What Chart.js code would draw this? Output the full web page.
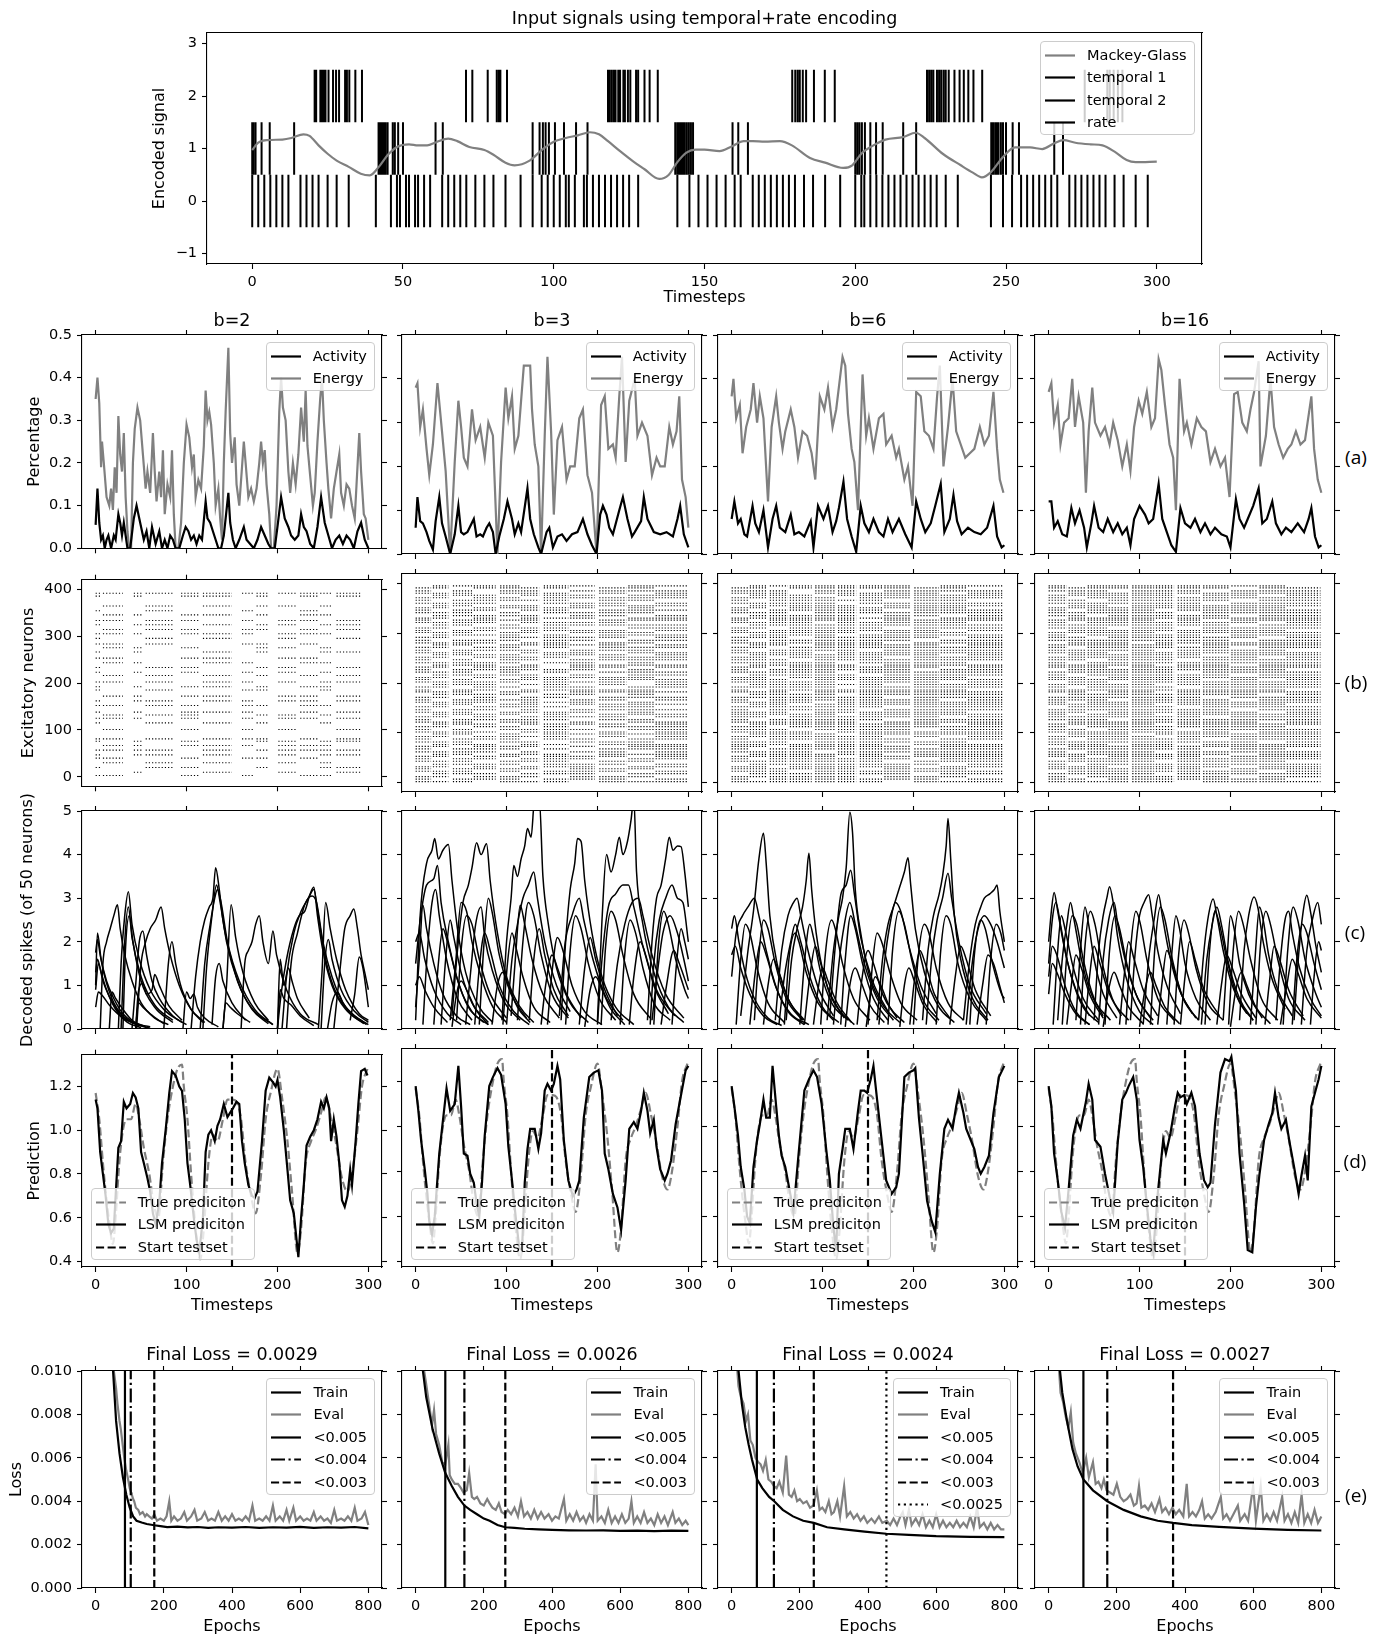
<!DOCTYPE html>
<html>
<head>
<meta charset="utf-8">
<script src="https://cdn.jsdelivr.net/npm/chart.js@4/dist/chart.umd.min.js"></script>
<style>
html,body{margin:0;padding:0;background:#fff}
body{position:relative;width:1385px;height:1639px;overflow:hidden;font-family:'DejaVu Sans',sans-serif;color:#000}
.leg{position:absolute;background:rgba(255,255,255,0.8);border:1px solid #ccc;border-radius:4px;box-sizing:border-box;font-size:14.5px}
.leg .row{position:absolute;left:0;right:0;height:22.5px;line-height:22.5px;white-space:nowrap}
.tag{position:absolute;font-family:'Open Sans',sans-serif;font-size:19px;transform:translate(-50%,-50%)}
</style>
</head>
<body>
<script>
// ---------- tick labels / titles ----------
const topXTicks = [0, 50, 100, 150, 200, 250, 300];
const topYTicks = [-1, 0, 1, 2, 3];
const stepTicks = [0, 100, 200, 300];
const actTicks = [0, 0.1, 0.2, 0.3, 0.4, 0.5];
const neuronTicks = [0, 100, 200, 300, 400];
const decTicks = [0, 1, 2, 3, 4, 5];
const predTicks = [0.4, 0.6, 0.8, 1.0, 1.2];
const epochTicks = [0, 200, 400, 600, 800];
const lossTicks = [0, 0.002, 0.004, 0.006, 0.008, 0.010];
const bTitles = ['b=2', 'b=3', 'b=6', 'b=16'];
const lossTitles = ['Final Loss = 0.0029', 'Final Loss = 0.0026', 'Final Loss = 0.0024', 'Final Loss = 0.0027'];

// ---------- top panel: input signals ----------
const mackeyGlass = [[0,.97],[2,1.11],[5,1.16],[10,1.17],[13,1.2],[17,1.27],[19,1.24],[22,1.06],[25,.9],[28,.77],[32,.65],[36,.52],[39,.49],[42,.65],[45,.88],[48,1.03],[52,1.08],[55,1.06],[58,1.06],[61,1.12],[65,1.19],[68,1.14],[72,1.03],[77,.97],[80,.88],[84,.73],[87,.68],[92,.77],[96,.97],[100,1.13],[104,1.2],[108,1.25],[112,1.31],[115,1.27],[118,1.14],[122,.95],[126,.77],[130,.61],[135,.42],[138,.49],[141,.74],[144,.92],[147,.98],[150,.98],[155,.95],[159,1.04],[163,1.14],[166,1.14],[170,1.13],[175,1.14],[179,1.06],[185,.82],[190,.73],[196,.63],[199,.68],[202,.9],[206,1.06],[210,1.17],[216,1.22],[220,1.3],[223,1.2],[229,.9],[235,.68],[239,.54],[242,.45],[245,.55],[249,.84],[253,1.02],[258,1.02],[262,.99],[266,1.1],[269,1.16],[273,1.11],[278,1.08],[282,1.06],[286,.94],[290,.78],[293,.74],[300,.75]];
const temporal1 = [20.7,21.2,22.6,23.2,23.8,24.3,25.3,26.8,27.8,28.8,30.8,31.4,32.2,34.2,36.4,70.9,73,78.1,81.1,81.8,82.3,84.5,118,118.5,119.2,119.9,120.5,121.4,122,123.1,123.6,124.6,125.4,127.3,128,130.1,131.8,134.5,179.1,180.1,180.9,181.6,182.6,183.7,186.3,189.9,193.2,223.8,224.5,225.2,225.9,227.1,227.8,228.5,229.3,230,231,232.9,234.6,236,237.5,239.2,242.1,276.1,283.6,284.4,285.7,287.1,288.6];
const temporal2 = [0,0.4,1.1,3.1,5.8,13.9,41.9,42.3,42.8,43.2,43.6,44.2,44.9,46.6,47.3,48.4,50,60.8,63.2,93,95.3,96.4,97.3,98.4,100.4,103.4,107.4,111.2,140.3,141,141.6,142.2,142.8,143.4,144.1,144.8,145.5,146.2,159.3,161.2,164.4,200,200.7,201.4,202.2,203.2,205,206.9,209.1,215.9,220.2,245.1,245.7,246.4,247,247.5,248.3,249,250,252.2,254.3,266,268.9];
const rateSpikes = [0,2,4,6,8,10,12,16,18,20,22,25,28,32,41,46,48,49,51,52,54,55,57,59,63,65,67,69,71,74,77,80,84,89,93,96,98,100,102,104,105,107,110,111,113,115,117,119,121,123,125,128,141,145,148,151,154,157,160,162,166,168,170,172,174,176,178,180,183,186,190,195,200,202,203,205,207,209,211,213,215,217,219,221,223,225,227,230,234,245,249,252,255,257,259,261,263,265,267,271,273,275,277,279,281,283,286,289,293,297];

// ---------- row (a): activity / energy ----------
const activityB2 = [[0,.055],[2,.14],[4,.06],[6,.02],[8,.03],[10,0],[12,.02],[14,.03],[17,0],[20,.03],[22,.02],[25,.08],[27,.06],[29,.03],[31,.06],[33,.03],[35,0],[38,0],[42,.07],[45,.1],[48,.07],[50,.05],[53,.02],[56,.04],[59,0],[62,.05],[64,.03],[66,.01],[70,.04],[73,0],[76,.02],[79,0],[82,.03],[85,.02],[88,0],[92,0],[96,.03],[99,.05],[102,.04],[105,.02],[108,.03],[111,.01],[114,.03],[117,.02],[121,.11],[123,.07],[126,.06],[129,.04],[132,.02],[135,0],[138,0],[141,.03],[146,.13],[148,.06],[151,.02],[154,0],[158,.02],[163,.05],[166,.02],[170,.01],[174,0],[178,.02],[182,.05],[186,.03],[190,.01],[193,0],[197,0],[200,.05],[204,.12],[208,.07],[212,.05],[215,.03],[219,.02],[223,.03],[226,.08],[229,.05],[232,.04],[236,.01],[240,0],[244,.05],[248,.12],[252,.06],[256,.03],[260,0],[264,.02],[268,.03],[272,.01],[276,.03],[280,.02],[284,0],[288,.04],[292,.06],[296,.02],[300,0]];
const energyB2 = [[0,.35],[2,.40],[4,.34],[6,.19],[7,.25],[9,.20],[12,.12],[15,.10],[17,.14],[19,.09],[21,.19],[23,.13],[25,.31],[27,.22],[29,.18],[31,.27],[33,.12],[35,.04],[37,0],[39,0],[41,.20],[43,.28],[46,.33],[49,.30],[52,.22],[55,.14],[57,.18],[60,.13],[63,.27],[65,.18],[67,.11],[70,.18],[72,.12],[74,.23],[76,.08],[79,.15],[82,.12],[84,.23],[86,.08],[88,0],[91,0],[94,.06],[97,.20],[100,.29],[103,.26],[106,.19],[108,.22],[110,.12],[113,.16],[116,.14],[119,.24],[121,.37],[123,.30],[125,.32],[127,.29],[130,.20],[132,.10],[135,.14],[137,.07],[139,.02],[141,.20],[143,.32],[146,.47],[148,.27],[150,.20],[153,.26],[155,.15],[158,.10],[160,.16],[163,.25],[165,.20],[168,.12],[171,.14],[174,.11],[177,.14],[180,.20],[182,.25],[184,.20],[186,.23],[188,.15],[191,.08],[193,0],[196,0],[199,.10],[202,.32],[204,.40],[206,.33],[209,.30],[212,.18],[214,.13],[217,.20],[220,.15],[223,.22],[226,.33],[229,.25],[231,.37],[233,.24],[236,.17],[239,.10],[241,.13],[244,.25],[247,.35],[249,.40],[251,.30],[254,.20],[256,.14],[259,.07],[262,.14],[265,.18],[268,.22],[270,.13],[273,.10],[276,.15],[279,.14],[282,.10],[285,.07],[287,.15],[290,.27],[292,.18],[295,.08],[297,.07],[300,.02]];
const activityB3 = [[0,.06],[2,.13],[5,.075],[8,.07],[12,.05],[15,.03],[19,.01],[22,.075],[26,.13],[29,.07],[33,.04],[38,0],[43,.045],[47,.11],[50,.05],[53,.045],[57,.05],[64,.08],[67,.04],[71,.045],[74,.04],[78,.06],[81,.07],[85,.05],[88,0],[92,.04],[97,.08],[101,.12],[106,.08],[109,.045],[113,.07],[116,.05],[123,.15],[126,.08],[130,.045],[135,.015],[138,0],[144,.05],[147,.06],[151,.015],[156,.04],[161,.045],[166,.03],[172,.045],[178,.05],[184,.08],[189,.045],[194,.02],[199,0],[203,.09],[206,.11],[210,.09],[213,.06],[217,.045],[224,.10],[228,.13],[233,.08],[238,.04],[241,.05],[248,.075],[251,.13],[255,.08],[262,.05],[269,.045],[276,.05],[283,.04],[288,.08],[291,.11],[295,.045],[300,.015]];
const energyB3 = [[0,.38],[2,.39],[5,.29],[8,.33],[12,.24],[15,.18],[19,.25],[24,.39],[29,.28],[33,.19],[38,0],[43,.21],[47,.35],[50,.29],[53,.22],[57,.20],[62,.33],[66,.26],[71,.29],[76,.22],[80,.30],[85,.27],[90,0],[94,.21],[99,.38],[102,.31],[106,.36],[109,.24],[113,.27],[119,.43],[123,.43],[126,.43],[128,.33],[131,.25],[135,.20],[138,0],[142,.27],[145,.45],[149,.28],[152,.09],[156,.26],[161,.29],[166,.17],[170,.20],[175,.20],[180,.31],[184,.33],[189,.18],[194,.14],[199,0],[204,.34],[208,.36],[212,.24],[217,.25],[220,.22],[224,.36],[227,.45],[231,.21],[235,.35],[241,.40],[244,.27],[249,.30],[255,.27],[260,.18],[265,.22],[269,.20],[274,.20],[279,.29],[283,.25],[287,.28],[290,.36],[293,.17],[297,.13],[300,.06]];
const activityB6 = [[0,.08],[3,.12],[7,.07],[10,.08],[14,.045],[17,.04],[23,.11],[26,.07],[30,.05],[35,.10],[40,.015],[45,.08],[49,.11],[53,.06],[59,.05],[65,.09],[69,.045],[74,.05],[80,.04],[87,.075],[90,.015],[95,.11],[101,.08],[106,.11],[111,.05],[115,.075],[118,.105],[123,.165],[127,.08],[132,.04],[137,.005],[142,.11],[146,.07],[151,.05],[156,.08],[162,.05],[167,.04],[172,.08],[177,.05],[184,.08],[191,.045],[198,.015],[203,.12],[208,.08],[213,.05],[219,.07],[224,.11],[230,.16],[234,.05],[240,.08],[244,.135],[248,.075],[253,.045],[260,.06],[267,.05],[274,.045],[281,.06],[288,.11],[292,.04],[297,.015],[300,.02]];
const energyB6 = [[0,.36],[2,.40],[5,.31],[9,.34],[12,.23],[16,.29],[21,.33],[24,.39],[28,.30],[31,.36],[35,.31],[40,.12],[44,.29],[49,.36],[52,.30],[56,.24],[59,.28],[65,.33],[69,.29],[73,.22],[78,.28],[83,.27],[88,.23],[92,.17],[97,.36],[102,.33],[106,.38],[111,.29],[115,.33],[122,.45],[125,.43],[128,.32],[132,.24],[135,.21],[139,.10],[144,.41],[148,.27],[151,.31],[156,.24],[162,.31],[167,.32],[170,.25],[176,.27],[181,.22],[184,.24],[190,.17],[194,.20],[199,.11],[203,.37],[208,.36],[212,.28],[217,.27],[222,.24],[226,.36],[229,.43],[233,.20],[238,.29],[243,.40],[247,.28],[252,.25],[257,.22],[262,.23],[267,.24],[273,.29],[278,.25],[283,.27],[288,.37],[292,.24],[295,.17],[299,.14]];
const activityB16 = [[0,.12],[3,.12],[6,.06],[10,.075],[15,.045],[20,.04],[25,.105],[29,.07],[34,.10],[39,.06],[42,.015],[47,.07],[50,.11],[55,.06],[60,.05],[65,.08],[71,.05],[76,.07],[81,.045],[86,.06],[90,.02],[94,.08],[100,.11],[106,.09],[110,.07],[115,.08],[121,.16],[125,.08],[130,.05],[135,.02],[140,.005],[145,.105],[150,.07],[156,.06],[161,.08],[167,.05],[172,.07],[178,.045],[183,.06],[190,.045],[196,.04],[200,.015],[206,.125],[210,.08],[215,.06],[219,.08],[225,.11],[231,.15],[235,.07],[240,.08],[246,.12],[250,.07],[256,.045],[261,.06],[267,.05],[274,.07],[281,.05],[286,.08],[289,.105],[293,.04],[297,.015],[300,.02]];
const energyB16 = [[0,.37],[3,.39],[6,.30],[10,.34],[13,.25],[17,.30],[22,.31],[26,.40],[29,.29],[33,.36],[38,.30],[41,.14],[44,.28],[48,.38],[51,.30],[57,.27],[62,.29],[67,.25],[71,.30],[76,.26],[81,.20],[86,.25],[90,.19],[94,.29],[99,.35],[103,.32],[108,.37],[113,.29],[117,.31],[121,.445],[124,.42],[128,.34],[133,.25],[137,.22],[140,.10],[144,.40],[149,.28],[152,.30],[157,.25],[163,.31],[168,.29],[173,.28],[178,.21],[183,.24],[189,.20],[194,.22],[199,.13],[204,.365],[208,.37],[213,.30],[218,.28],[222,.33],[226,.37],[231,.44],[233,.20],[239,.27],[244,.40],[248,.29],[253,.25],[258,.22],[263,.24],[267,.25],[272,.28],[277,.25],[282,.26],[289,.36],[292,.24],[296,.17],[300,.14]];

// ---------- row (b): spike rasters (neuron rows x active time windows) ----------
const winB2 = [[0,6],[8,30],[42,52],[55,85],[94,114],[118,150],[161,175],[177,191],[201,222],[225,245],[247,260],[265,293]];
const rowsB2 = [391,385,364,354,345,333,324,314,305,295,283,275,266,253,243,233,223,216,202,192,185,172,162,152,138,132,125,115,101,81,76,67,57,47,40,30,20,10,3];
const maskB2 = `111111111111 101011010101 010101011010 100100100100 011011010110 110110101101 101101011011 010110110101 111011101110 100101001001 110100110100 011010011010 101001010011 110011001100 011001100110 100110011001 101010101010 010101010101 110101101011 101011010110 100100110010 011011001101 101101101101 110110110110 101011100101 010110011010 111010101101 100101010010 010010101001 110101110101 101010011011 011011101110 111101011111 101101001011 110010110100 010101001010 100110010011 001001001001 110010100110`;
const rowsDense = [1,6,11,17,22,27,31,36,42,47,52,56,61,67,72,76,81,87,92,97,101,106,112,117,121,126,132,137,141,146,152,157,161,166,171,177,182,186,192,197,202,207,211,216,222,227,232,236,241,247,252,257,261,266,272,277,281,286,292,297,302,306,311,317,322,327,331,336,342,347,352,356,361,367,372,377,381,386,392,396];
const winB3 = [[0,17],[19,36],[41,62],[64,88],[93,114],[116,136],[141,168],[170,197],[202,232],[234,262],[264,299]];
const maskB3 = `11101110111 10111011101 11011101110 01110111011 11101011101 10111101110 11010111011 01111011101 11101110110 10110111011 11011011101 01101110111 11110101101 10111010111 11011101011 01110110111 11101101110 10111011011 11011110101 01101011111 11110110101 10101111011 11011010111 01110111101 11101101011 10111110110 11010111101 01111010111 11101111010 10110101111 11011110110 01101101111 11110111010 10111101101 11010110111 01111011010 11101101111 10110111110 11011011011 01110110101 11111011101 10101110111 11010111110 01111101011 11101010111 10111111010 11011101101 01110101111 11111011010 10101101111 11011110111 01111011101 11100111011 10111101110 11011010111 01101111101 11110110110 10111011011 11001111101 01111010111 11101101110 10110111101 11011110011 01101011111 11110111100 10111100111 11010111011 01111101101 11101011110 10110110111 11011111010 01101101111 11110011101 10111110110 11011011111 01110111011 11101110101 10101101111 11011110110 01111011011`;
const winB6 = [[0,18],[20,38],[42,62],[64,88],[92,115],[117,137],[141,166],[168,197],[201,228],[230,258],[260,299]];
const maskB6 = `11111110111 10111111101 11111101110 01111111011 11101111111 11111101110 11011111011 01111111101 11111110111 10111111011 11111011111 01111110111 11110111111 10111111111 11011111011 11111110111 11101111110 10111111011 11111110101 01111011111 11110111111 11101111011 11011111111 01111111101 11111101111 10111110111 11011111101 11111011111 11101111110 10111101111 11111110111 01101111111 11110111111 10111111101 11111110111 01111011111 11101111111 10111111110 11111011111 01111110111 11111011101 11101111111 11011111110 01111101111 11111011111 10111111011 11011111101 01111101111 11111011110 11101111111 11011110111 01111111101 11110111111 10111101111 11011111111 01101111101 11111110111 10111111011 11101111101 01111011111 11111101110 10111111101 11011110111 01111111111 11110111110 10111101111 11111111011 01111101101 11101111111 10111110111 11011111110 01111101111 11111011111 10111110110 11111011111 01110111111 11101111101 11101101111 11011111110 01111111011`;
const winB16 = [[0,20],[22,40],[43,64],[66,89],[92,116],[118,138],[142,168],[170,198],[201,230],[232,260],[262,299]];
const maskB16 = `11111101111 11011111110 10111111011 11111011111 01111111101 11111110111 11101111011 10111111111 11111011110 01111111111 11011110111 11111111011 10111011111 11111110110 01111111111 11101101111 11111111101 10111110111 11111011111 01110111111 11111111011 11011101111 10111111110 11111011111 01111111101 11101111111 11111110111 10111011111 11011111101 11111111011 01111101111 11111011110 10111111111 11101111011 11111110111 01111111101 11011011111 11111111110 10111101111 11111011111 01101111111 11111110101 11011111111 10111111011 11111101111 01111111110 11101111111 11111011011 10111111111 11011101111 11111111101 01111110111 11101111111 11111011110 10111111011 11111101111 01110111111 11111111011 11011111101 10111110111 11111011111 01111111110 11101101111 11111111011 10111111101 11111010111 01111111111 11011111011 11111101111 10111011111 11111111110 01101111111 11111110111 11011111011 10111111111 11111101101 01111111111 11101110111 11111111011 10111111110`;

// ---------- row (c): decoded spike traces (subset of the 50 neurons) ----------
const tracesB2 = [
 [[0,1.75],[2,2.05],[5,1.7],[10,1.2],[20,.6],[30,.3],[45,.1],[60,.02]],
 [[0,1.0],[2,2.2],[6,1.6],[12,1.1],[20,.7],[30,.35],[45,.1]],
 [[0,.9],[3,1.5],[8,1.1],[15,.75],[25,.4],[40,.15],[60,.05]],
 [[0,.5],[3,.85],[8,.75],[15,.55],[30,.25],[50,.08]],
 [[0,1.3],[2,1.6],[6,1.3],[12,.9],[22,.45],[35,.15],[50,.03]],
 [[5,0],[8,1.5],[12,2.0],[16,2.3],[20,2.6],[24,2.85],[27,2.3],[32,1.7],[40,1.1],[50,.6],[65,.25],[80,.1]],
 [[25,0],[28,1.5],[32,2.6],[36,3.15],[40,2.4],[48,1.6],[60,.9],[75,.45],[95,.15]],
 [[28,0],[32,2.0],[36,2.8],[40,2.1],[50,1.2],[65,.55],[85,.2]],
 [[30,0],[33,1.9],[37,2.6],[41,2.0],[50,1.1],[65,.5],[85,.15]],
 [[15,0],[18,.85],[22,.7],[30,.45],[40,.2],[55,.05]],
 [[40,0],[44,1.0],[48,2.0],[52,2.25],[56,1.7],[62,1.1],[70,.7],[85,.3],[100,.1]],
 [[44,0],[47,.85],[52,1.05],[56,.8],[62,.9],[65,1.25],[70,1.0],[80,.55],[95,.2]],
 [[44,0],[47,.6],[52,.5],[60,.35],[75,.12]],
 [[45,0],[50,1.5],[55,2.0],[60,2.3],[66,2.5],[72,2.8],[76,2.3],[82,1.7],[92,1.0],[105,.45],[120,.15]],
 [[75,0],[80,1.5],[84,2.0],[88,1.5],[95,.9],[105,.45],[118,.15]],
 [[96,0],[100,.85],[104,.7],[108,.8],[112,.5],[120,.25],[135,.05]],
 [[105,0],[110,1.2],[115,2.0],[120,2.5],[125,2.8],[129,3.0],[132,3.7],[136,3.2],[140,2.5],[148,1.7],[160,.9],[175,.4],[195,.1]],
 [[115,0],[120,1.5],[126,2.4],[131,3.0],[134,3.2],[138,2.9],[145,2.0],[158,1.1],[175,.45],[195,.1]],
 [[118,0],[122,1.4],[128,2.6],[133,3.3],[137,2.9],[144,2.0],[156,1.1],[172,.45],[190,.12]],
 [[128,.1],[132,1.2],[136,1.5],[140,1.1],[150,.6],[165,.2]],
 [[140,0],[144,1.0],[149,2.85],[154,2.1],[162,1.3],[175,.6],[190,.2]],
 [[140,0],[143,.6],[148,.5],[156,.35],[170,.15]],
 [[160,0],[164,1.5],[168,1.8],[172,2.0],[176,2.4],[180,2.6],[184,2.0],[190,1.5],[195,2.25],[199,1.7],[210,.9],[225,.35],[245,.1]],
 [[200,0],[203,1.6],[207,1.0],[212,1.4],[216,1.1],[222,.7],[235,.25]],
 [[200,0],[203,.9],[207,.7],[215,.55],[225,.3],[240,.08]],
 [[200,0],[204,.8],[210,1.6],[218,2.3],[224,2.6],[230,2.7],[236,3.1],[240,3.25],[244,2.6],[250,1.8],[260,1.0],[275,.45],[295,.12]],
 [[205,0],[210,1.2],[218,2.2],[226,2.7],[234,3.0],[240,3.2],[245,2.6],[252,1.7],[262,.95],[278,.4],[298,.1]],
 [[210,0],[215,1.5],[222,2.2],[230,2.85],[238,3.05],[243,2.9],[250,2.0],[260,1.2],[275,.5],[295,.15]],
 [[245,0],[249,1.3],[253,2.9],[258,2.3],[265,1.6],[275,.9],[290,.35],[300,.2]],
 [[248,0],[252,1.5],[256,2.05],[260,1.6],[270,.9],[285,.4],[300,.15]],
 [[262,0],[268,1.2],[274,2.3],[280,2.6],[284,2.75],[288,2.3],[292,1.7],[296,1.3],[300,.9]],
 [[280,.2],[285,.8],[290,1.65],[294,1.4],[300,.5]],
 [[255,0],[260,.6],[266,.85],[272,.6],[285,.3],[300,.1]]
];
const tracesB3 = [
 [[0,.2],[5,2.6],[12,3.8],[18,4.1],[21,4.37],[25,3.9],[30,4.1],[36,4.23],[40,3.4],[46,2.3],[55,1.3],[70,.5],[85,.15]],
 [[0,1.5],[5,2.5],[12,3.3],[20,3.45],[24,3.75],[28,2.9],[36,2.0],[48,1.0],[62,.4],[80,.1]],
 [[0,.5],[4,1.6],[8,2.84],[12,2.3],[20,1.5],[30,.8],[45,.3],[60,.1]],
 [[40,.3],[46,1.8],[52,2.9],[58,3.3],[62,3.7],[67,4.27],[72,4.0],[78,4.25],[82,3.4],[90,2.2],[100,1.2],[115,.5],[130,.15]],
 [[38,.2],[44,1.5],[50,2.9],[56,2.7],[62,2.0],[72,1.2],[85,.5],[100,.15]],
 [[55,.1],[60,1.2],[66,2.4],[72,2.8],[76,2.1],[85,1.3],[98,.6],[115,.2]],
 [[95,.2],[100,2.0],[105,3.0],[108,3.75],[112,3.5],[116,3.9],[120,4.2],[123,4.6],[127,4.4],[131,5.3],[136,5.3],[140,3.5],[146,2.4],[155,1.4],[170,.6],[190,.15]],
 [[100,.1],[106,1.6],[112,2.4],[118,3.0],[124,3.3],[130,3.6],[134,3.0],[142,2.0],[155,1.0],[170,.4]],
 [[105,.3],[110,1.7],[115,2.84],[120,2.4],[128,1.6],[140,.8],[158,.25]],
 [[160,.2],[165,2.0],[170,3.2],[175,3.8],[178,4.37],[182,4.3],[186,3.4],[194,2.2],[205,1.2],[220,.5],[240,.1]],
 [[158,.3],[164,1.9],[172,2.6],[180,3.0],[185,2.5],[195,1.6],[210,.7],[228,.2]],
 [[200,.2],[205,2.5],[210,4.0],[215,3.6],[220,4.0],[224,4.4],[228,4.0],[233,4.3],[237,4.8],[240,5.3],[243,3.6],[250,2.4],[262,1.3],[278,.5],[295,.15]],
 [[200,.1],[205,1.6],[212,2.8],[220,3.1],[228,3.3],[234,3.3],[240,2.8],[250,1.9],[265,.9],[285,.3]],
 [[215,.2],[222,1.5],[230,2.4],[238,2.9],[245,3.0],[250,2.6],[260,1.7],[275,.8],[295,.25]],
 [[255,.2],[260,2.0],[265,3.0],[270,3.3],[275,3.9],[279,4.4],[283,4.1],[288,4.2],[292,4.18],[296,3.6],[300,2.8]],
 [[258,.1],[262,1.5],[268,2.5],[275,3.0],[282,3.3],[288,3.0],[294,2.9],[300,2.0]],
 [[260,.2],[266,1.3],[272,2.2],[280,2.6],[288,2.2],[295,1.6],[300,1.1]],
 [[0,2.0],[4,2.2],[10,1.6],[20,.9],[35,.35],[50,.1]],
 [[20,.1],[25,1.5],[30,2.3],[35,2.0],[45,1.2],[58,.5],[75,.15]],
 [[65,.1],[70,1.4],[76,2.2],[82,1.8],[92,1.0],[108,.4],[125,.1]],
 [[125,.2],[130,1.6],[136,2.3],[142,1.7],[152,.9],[168,.3]],
 [[138,.1],[143,1.0],[150,1.7],[156,1.4],[166,.8],[182,.25]],
 [[180,.1],[186,1.4],[192,2.1],[198,1.6],[208,.9],[222,.3]],
 [[235,.1],[240,1.2],[247,2.0],[253,1.7],[262,1.0],[278,.35]],
 [[270,.1],[276,1.0],[284,1.8],[290,1.5],[300,.9]],
 [[40,.05],[45,.8],[50,1.1],[56,.9],[66,.45],[80,.1]],
 [[84,.1],[90,1.0],[96,1.3],[102,1.0],[112,.5],[126,.15]],
 [[186,.05],[192,.9],[198,1.2],[205,.9],[215,.45],[230,.1]],
 [[8,.1],[13,1.8],[18,2.9],[22,3.2],[26,2.6],[34,1.6],[46,.7],[62,.2]],
 [[28,.1],[33,1.6],[38,2.5],[42,2.1],[50,1.3],[62,.6],[80,.15]],
 [[45,.2],[50,1.8],[56,2.6],[62,2.4],[70,1.6],[82,.8],[100,.25]],
 [[70,.1],[75,1.9],[80,3.0],[84,2.7],[92,1.7],[105,.8],[122,.25]],
 [[96,.1],[101,1.5],[106,2.2],[110,1.9],[118,1.2],[130,.5],[148,.15]],
 [[112,.2],[118,2.0],[124,2.9],[130,2.6],[138,1.7],[150,.8],[168,.25]],
 [[145,.1],[150,1.3],[156,2.1],[162,1.8],[172,1.0],[186,.4],[205,.1]],
 [[165,.1],[170,1.8],[176,2.6],[182,2.3],[190,1.5],[202,.7],[220,.2]],
 [[204,.1],[209,1.9],[215,2.7],[220,2.5],[228,1.7],[240,.8],[258,.25]],
 [[225,.1],[230,1.7],[236,2.5],[242,2.2],[250,1.4],[262,.6],[280,.2]],
 [[262,.1],[267,1.9],[273,2.7],[278,2.4],[286,1.6],[296,.9],[300,.7]],
 [[282,.1],[287,1.5],[292,2.3],[296,2.0],[300,1.6]],
 [[0,1.0],[4,1.2],[10,.9],[20,.5],[35,.15]]
];
const tracesB6 = [
 [[10,.3],[18,1.8],[24,2.7],[30,3.9],[35,4.49],[38,3.8],[42,2.6],[50,1.5],[62,.7],[80,.2]],
 [[0,1.2],[5,2.2],[12,2.6],[18,2.8],[25,3.0],[30,2.6],[38,1.8],[50,.9],[65,.35],[85,.1]],
 [[0,2.3],[3,2.6],[8,2.0],[15,1.3],[25,.7],[40,.25],[55,.08]],
 [[60,.2],[66,1.6],[72,2.3],[78,2.8],[82,3.4],[85,4.03],[88,3.2],[93,2.2],[102,1.2],[118,.45],[135,.1]],
 [[48,.2],[55,1.8],[62,2.6],[68,2.9],[72,3.0],[76,2.6],[84,1.8],[96,.9],[112,.3]],
 [[52,.1],[58,1.2],[65,2.0],[70,2.4],[76,2.0],[86,1.2],[100,.5],[118,.15]],
 [[105,.2],[112,1.8],[118,2.6],[122,3.0],[126,3.7],[130,4.97],[133,4.5],[136,3.2],[142,2.2],[152,1.2],[168,.5],[185,.15]],
 [[108,.3],[114,1.9],[120,3.07],[126,3.3],[131,3.64],[135,3.1],[142,2.1],[155,1.1],[172,.4]],
 [[112,.1],[118,1.5],[124,2.4],[130,2.9],[136,2.4],[146,1.5],[160,.7],[178,.2]],
 [[160,.2],[166,1.6],[172,2.4],[178,2.8],[184,3.2],[190,3.6],[194,3.93],[197,3.3],[202,2.3],[212,1.3],[228,.5],[245,.15]],
 [[162,.1],[168,1.5],[175,2.5],[180,2.9],[186,2.7],[195,1.9],[208,1.0],[225,.35]],
 [[210,.2],[216,1.8],[222,2.6],[228,3.07],[232,3.5],[236,4.2],[238,4.83],[241,3.9],[245,2.6],[252,1.6],[265,.7],[282,.2]],
 [[214,.1],[220,1.6],[226,2.5],[232,3.0],[238,3.57],[242,3.0],[250,2.0],[262,1.0],[280,.35]],
 [[255,.2],[262,1.6],[268,2.4],[274,2.8],[278,3.0],[284,3.1],[289,3.2],[292,3.3],[295,2.7],[300,2.0]],
 [[258,.1],[264,1.4],[270,2.2],[278,2.6],[285,2.4],[292,2.0],[300,1.4]],
 [[0,1.7],[4,1.9],[10,1.4],[20,.8],[35,.3],[50,.1]],
 [[20,.1],[26,1.3],[32,2.0],[38,1.7],[48,1.0],[62,.4],[80,.1]],
 [[35,.1],[40,1.0],[46,1.6],[52,1.3],[62,.7],[78,.2]],
 [[80,.1],[86,1.2],[92,1.9],[98,1.5],[108,.8],[124,.25]],
 [[90,.1],[95,.9],[100,1.4],[106,1.1],[116,.6],[132,.15]],
 [[138,.1],[143,1.1],[150,1.8],[156,1.5],[166,.8],[182,.25]],
 [[148,.05],[153,.8],[158,1.2],[164,1.0],[174,.5],[190,.15]],
 [[196,.1],[201,1.1],[207,1.8],[213,1.5],[223,.8],[240,.25]],
 [[240,.1],[246,1.2],[252,1.9],[258,1.6],[268,.9],[285,.3]],
 [[270,.1],[276,1.0],[282,1.7],[288,1.5],[296,.9],[300,.6]],
 [[125,.05],[130,1.0],[136,1.4],[142,1.1],[152,.55],[168,.15]],
 [[185,.05],[190,1.0],[195,1.4],[201,1.1],[211,.55],[226,.15]],
 [[5,.1],[10,1.6],[15,2.4],[20,2.2],[28,1.4],[40,.6],[58,.15]],
 [[25,.2],[30,1.7],[35,2.5],[40,2.3],[48,1.5],[60,.7],[78,.2]],
 [[58,.1],[63,1.6],[70,2.2],[74,2.0],[82,1.3],[95,.6],[112,.2]],
 [[75,.1],[80,1.5],[86,2.4],[90,2.1],[98,1.3],[110,.6],[128,.2]],
 [[98,.1],[103,1.7],[110,2.5],[114,2.3],[122,1.5],[134,.7],[152,.2]],
 [[120,.1],[125,1.6],[131,2.6],[136,2.3],[144,1.5],[156,.7],[172,.2]],
 [[150,.1],[155,1.5],[160,2.2],[165,2.0],[174,1.3],[186,.6],[204,.2]],
 [[172,.1],[177,1.8],[184,2.7],[190,2.4],[198,1.6],[210,.7],[228,.2]],
 [[200,.1],[205,1.6],[212,2.4],[217,2.2],[225,1.4],[238,.6],[255,.2]],
 [[225,.1],[230,1.8],[236,2.6],[241,2.4],[249,1.5],[262,.7],[280,.2]],
 [[262,.1],[267,1.7],[274,2.5],[279,2.3],[287,1.5],[297,.8],[300,.7]],
 [[280,.1],[285,1.6],[291,2.4],[296,2.2],[300,1.8]]
];
const tracesB16 = [
 [[0,2.0],[3,2.7],[6,3.13],[10,2.7],[16,2.0],[25,1.2],[38,.5],[55,.15]],
 [[0,1.5],[4,2.5],[8,2.9],[13,2.4],[20,1.6],[30,.9],[45,.3]],
 [[10,.2],[15,1.6],[20,2.4],[24,2.9],[28,2.5],[35,1.7],[45,.9],[60,.3]],
 [[30,.2],[35,1.8],[40,2.8],[44,2.4],[50,1.6],[60,.8],[75,.25]],
 [[50,.2],[55,1.8],[60,2.6],[64,3.0],[67,3.26],[71,2.9],[76,2.1],[85,1.2],[100,.4],[115,.1]],
 [[55,.1],[60,1.6],[66,2.5],[72,2.9],[76,2.4],[84,1.6],[96,.8],[112,.25]],
 [[90,.2],[95,1.7],[100,2.6],[105,2.9],[110,3.08],[114,2.6],[120,1.8],[130,1.0],[145,.35]],
 [[104,.1],[110,1.6],[116,2.5],[121,3.08],[125,2.6],[132,1.8],[142,1.0],[158,.35]],
 [[130,.1],[135,1.6],[140,2.6],[144,2.3],[150,1.5],[162,.7],[178,.2]],
 [[165,.2],[170,1.6],[175,2.5],[181,2.98],[185,2.6],[192,1.8],[202,1.0],[218,.35]],
 [[168,.1],[174,1.6],[180,2.4],[185,2.8],[190,2.4],[198,1.5],[210,.7],[225,.2]],
 [[192,.2],[196,1.5],[200,2.6],[204,2.3],[210,1.5],[220,.8],[235,.25]],
 [[210,.2],[215,1.8],[220,2.6],[226,3.03],[230,2.8],[236,2.0],[245,1.2],[260,.45]],
 [[222,.1],[227,1.6],[232,2.8],[236,2.5],[242,1.7],[252,.9],[268,.3]],
 [[250,.2],[255,1.6],[260,2.5],[264,2.7],[268,2.2],[276,1.4],[288,.7],[300,.3]],
 [[270,.2],[275,1.7],[280,2.7],[284,3.07],[288,2.7],[294,1.9],[300,1.3]],
 [[278,.1],[284,1.8],[290,2.5],[296,2.9],[300,2.4]],
 [[0,.8],[4,1.5],[9,1.3],[18,.8],[30,.35],[45,.1]],
 [[20,.1],[25,1.0],[30,1.7],[36,1.4],[45,.8],[60,.25]],
 [[40,.1],[45,1.2],[50,1.9],[55,1.6],[65,.9],[80,.3]],
 [[78,.1],[83,1.2],[88,2.0],[94,1.6],[104,.9],[120,.3]],
 [[120,.1],[125,1.1],[130,1.8],[136,1.5],[146,.8],[162,.25]],
 [[145,.1],[150,1.2],[155,2.0],[161,1.6],[171,.9],[188,.3]],
 [[185,.1],[190,1.0],[196,1.7],[202,1.4],[212,.8],[228,.25]],
 [[238,.1],[243,1.1],[248,1.9],[254,1.6],[264,.9],[280,.3]],
 [[255,.1],[262,1.0],[268,1.6],[274,1.3],[284,.7],[300,.25]],
 [[288,.1],[292,1.2],[297,2.0],[300,1.8]],
 [[60,.05],[66,.9],[72,1.3],[78,1.0],[88,.5],[104,.12]],
 [[100,.05],[106,.9],[112,1.3],[118,1.0],[128,.5],[144,.12]],
 [[200,.05],[206,.9],[212,1.3],[218,1.0],[228,.5],[244,.12]],
 [[5,.1],[10,1.8],[14,2.6],[18,2.3],[26,1.5],[38,.7],[55,.2]],
 [[15,.1],[20,1.7],[26,2.6],[31,2.4],[38,1.6],[50,.7],[68,.2]],
 [[35,.1],[40,1.9],[46,2.7],[51,2.4],[58,1.6],[70,.7],[88,.2]],
 [[62,.1],[67,1.8],[73,2.6],[78,2.3],[86,1.5],[98,.7],[115,.2]],
 [[85,.1],[90,1.8],[96,2.7],[101,2.4],[108,1.6],[120,.7],[138,.2]],
 [[112,.1],[117,1.9],[123,2.8],[128,2.5],[136,1.6],[148,.7],[165,.2]],
 [[138,.1],[143,1.7],[149,2.5],[154,2.2],[162,1.4],[175,.6],[192,.2]],
 [[172,.1],[177,1.8],[183,2.7],[188,2.4],[196,1.6],[208,.7],[225,.2]],
 [[198,.1],[203,1.8],[209,2.7],[214,2.4],[222,1.6],[234,.7],[252,.2]],
 [[228,.1],[233,1.9],[239,2.7],[244,2.4],[252,1.6],[264,.7],[282,.2]],
 [[258,.1],[263,1.8],[269,2.8],[274,2.5],[282,1.6],[294,.8],[300,.5]],
 [[268,.1],[273,1.6],[279,2.4],[284,2.2],[292,1.5],[300,.9]],
 [[0,1.2],[4,1.9],[9,1.7],[18,1.0],[30,.4],[45,.1]]
];

// ---------- row (d): predictions ----------
const testStart = 150;
const truePred = [[0,1.17],[4,1.05],[8,.85],[11,.72],[15,.58],[19,.48],[22,.6],[26,.85],[30,1.0],[34,1.05],[39,1.05],[44,1.12],[48,1.05],[53,.92],[59,.8],[64,.66],[69,.6],[74,.85],[79,1.05],[85,1.2],[90,1.28],[95,1.3],[97,1.2],[101,1.05],[105,.8],[110,.55],[115,.41],[119,.55],[124,.85],[129,.98],[134,.95],[140,1.05],[145,1.14],[151,1.14],[155,1.13],[160,1.05],[165,.85],[171,.7],[176,.62],[182,.8],[187,1.05],[193,1.18],[200,1.28],[205,1.15],[211,.95],[216,.72],[222,.44],[226,.55],[231,.85],[237,.95],[242,1.0],[248,1.08],[253,1.15],[259,1.05],[264,.95],[271,.78],[277,.72],[282,.8],[288,1.0],[293,1.2],[299,1.28]];
const lsmB2 = [[0,1.14],[2,1.1],[5,.9],[8,.8],[11,.7],[14,.57],[17,.53],[20,.55],[22,.7],[25,.92],[28,.95],[31,1.13],[34,1.1],[38,1.12],[41,1.17],[44,1.15],[47,1.1],[50,.9],[53,.85],[57,.78],[60,.72],[63,.62],[66,.57],[70,.67],[73,.85],[77,1.0],[81,1.17],[84,1.27],[88,1.25],[92,1.2],[95,1.18],[98,1.05],[101,.85],[104,.75],[108,.6],[111,.5],[114,.44],[118,.6],[121,.9],[124,.98],[127,1.0],[131,.95],[134,1.02],[137,1.05],[141,1.12],[145,1.06],[148,1.08],[151,1.1],[155,1.13],[158,1.12],[161,.95],[164,.85],[168,.75],[172,.7],[175,.69],[178,.72],[183,.95],[187,1.18],[191,1.24],[195,1.22],[198,1.2],[200,1.23],[203,1.15],[207,1.0],[211,.82],[214,.68],[218,.62],[221,.5],[223,.42],[226,.6],[229,.75],[232,.93],[236,.97],[240,1.0],[244,1.05],[248,1.13],[251,1.1],[254,1.15],[257,1.1],[259,.95],[262,1.05],[265,.97],[268,.85],[271,.68],[274,.65],[277,.7],[280,.82],[282,.75],[286,.95],[289,1.12],[292,1.27],[296,1.28],[299,1.25]];
const lsmB3 = [[0,1.18],[3,1.07],[6,.94],[10,.81],[13,.7],[15,.58],[18,.52],[21,.6],[26,.88],[29,.99],[34,1.17],[38,1.07],[43,1.1],[47,1.27],[50,1.09],[53,.88],[57,.87],[60,.79],[64,.75],[67,.66],[70,.6],[73,.75],[76,.96],[81,1.18],[85,1.22],[90,1.26],[94,1.23],[99,1.1],[102,.91],[106,.76],[110,.6],[114,.46],[117,.45],[120,.75],[123,.9],[126,.99],[131,.99],[135,.9],[138,.97],[142,1.16],[145,1.19],[149,1.16],[152,1.19],[156,1.27],[159,1.21],[163,.94],[168,.76],[173,.69],[177,.72],[180,.76],[185,1.04],[191,1.22],[196,1.24],[201,1.25],[205,1.16],[208,.88],[212,.81],[217,.7],[222,.64],[226,.54],[231,.76],[235,.99],[240,1.02],[244,.99],[248,1.07],[251,1.15],[255,1.07],[258,.97],[262,1.03],[265,.91],[269,.81],[274,.76],[277,.79],[281,.85],[286,1.01],[291,1.12],[297,1.25],[300,1.27]];
const lsmB6 = [[0,1.18],[3,1.09],[7,.96],[10,.82],[14,.72],[17,.6],[20,.57],[24,.82],[28,.94],[31,1.01],[35,1.12],[38,1.04],[42,1.04],[45,1.27],[49,1.09],[52,.96],[55,.87],[59,.82],[65,.69],[68,.62],[73,.85],[80,1.16],[85,1.21],[90,1.25],[94,1.22],[99,1.1],[104,.9],[108,.76],[112,.55],[115,.45],[118,.79],[122,.9],[125,.99],[130,.99],[134,.9],[139,1.07],[142,1.16],[146,1.16],[149,1.15],[153,1.21],[156,1.27],[160,1.12],[165,.94],[170,.76],[176,.7],[181,.73],[184,.79],[190,1.22],[195,1.24],[200,1.25],[202,1.26],[206,1.04],[210,.88],[215,.67],[220,.58],[224,.53],[229,.79],[234,.99],[238,1.03],[243,.99],[247,1.09],[250,1.15],[255,1.06],[258,.99],[263,.94],[267,.9],[271,.82],[274,.79],[278,.82],[283,.87],[288,1.06],[294,1.22],[300,1.27]];
const lsmB16 = [[0,1.18],[3,1.09],[6,.88],[10,.76],[14,.62],[18,.55],[22,.72],[27,.96],[31,1.03],[35,.99],[41,1.11],[44,1.19],[48,1.12],[51,.94],[57,.91],[62,.79],[67,.69],[71,.62],[76,.93],[81,1.12],[85,1.15],[88,1.18],[93,1.22],[97,1.12],[100,.94],[104,.82],[108,.65],[112,.5],[115,.44],[120,.7],[126,.94],[129,.88],[134,.97],[139,1.09],[142,1.15],[145,1.13],[149,1.14],[152,1.1],[157,1.15],[161,1.09],[166,.88],[171,.76],[175,.73],[178,.75],[183,1.01],[189,1.24],[194,1.3],[199,1.29],[201,1.31],[206,1.16],[210,.88],[215,.66],[219,.45],[224,.44],[228,.64],[232,.79],[237,.94],[242,1.01],[246,1.06],[249,1.15],[253,1.04],[256,.99],[261,1.03],[265,.93],[270,.82],[275,.7],[278,.78],[282,.87],[285,.76],[289,1.09],[293,1.15],[297,1.21],[300,1.27]];

// ---------- row (e): training curves ----------
const trainB2 = [[0,.06],[10,.04],[20,.028],[30,.02],[40,.0145],[50,.0103],[60,.0077],[70,.0062],[80,.0051],[90,.0043],[100,.0037],[110,.0033],[120,.0031],[135,.00302],[150,.00295],[172,.00289],[190,.00285],[210,.00281],[240,.00283],[270,.00279],[300,.00281],[330,.00277],[360,.0028],[400,.00278],[440,.00281],[480,.00277],[520,.0028],[560,.00278],[600,.00282],[640,.00277],[680,.0028],[720,.00278],[760,.00281],[800,.00275]];
const evalB2 = [[0,.07],[20,.035],[40,.016],[50,.0104],[60,.0092],[64,.0085],[70,.0077],[74,.0073],[80,.0065],[84,.006],[90,.0054],[94,.0051],[100,.0046],[104,.0044],[106,.0043],[110,.0041],[113,.004],[118,.0037],[125,.0036],[130,.0034],[138,.0035],[145,.0033],[150,.0034],[157,.0033],[165,.0032],[172,.0034],[180,.0031],[190,.0032],[200,.0031],[208,.0033],[216,.004],[222,.0031],[230,.0033],[240,.0031],[250,.0032],[260,.0035],[268,.0031],[280,.0033],[290,.0036],[298,.0031],[310,.0032],[320,.0035],[330,.0031],[340,.0032],[350,.0031],[360,.0035],[370,.0031],[380,.0033],[390,.0031],[400,.0034],[410,.0031],[420,.0032],[430,.0031],[440,.0033],[450,.0031],[460,.0038],[468,.0031],[480,.0032],[490,.0031],[500,.0033],[510,.0031],[520,.0038],[528,.0031],[540,.0033],[550,.0031],[560,.0036],[568,.0031],[580,.0037],[588,.0031],[600,.0033],[610,.0031],[620,.0032],[630,.0031],[640,.0035],[648,.0031],[660,.0033],[670,.0031],[680,.0032],[690,.003],[700,.0036],[708,.0031],[720,.0032],[730,.0031],[740,.0033],[750,.0031],[760,.0037],[768,.0031],[780,.0032],[790,.0035],[800,.0029]];
const trainB3 = [[0,.05],[10,.02],[19,.0103],[31,.0088],[50,.0073],[69,.0062],[87,.0053],[106,.0047],[124,.0042],[143,.0038],[160,.0036],[180,.0034],[200,.0032],[217,.0031],[240,.0029],[263,.0028],[290,.00277],[320,.00273],[360,.0027],[400,.00268],[450,.00266],[500,.00265],[550,.00266],[600,.00263],[650,.00264],[700,.00262],[750,.00264],[800,.00263]];
const evalB3 = [[0,.05],[20,.0105],[30,.0095],[41,.0083],[48,.0075],[54,.0082],[60,.0071],[69,.0066],[78,.0058],[87,.0057],[96,.0066],[100,.0052],[106,.005],[115,.0048],[124,.0048],[133,.0046],[140,.0044],[150,.0045],[157,.0053],[165,.0042],[172,.0041],[180,.0042],[190,.0039],[200,.0038],[210,.0041],[217,.0039],[225,.0037],[235,.0036],[244,.0039],[252,.0035],[262,.0034],[270,.0036],[280,.0034],[290,.0037],[300,.0033],[309,.004],[318,.0033],[328,.0035],[338,.0032],[348,.0036],[358,.0032],[368,.0035],[378,.0032],[390,.0034],[400,.0031],[410,.0033],[420,.0032],[435,.0041],[442,.0031],[452,.0034],[462,.0031],[472,.0035],[482,.0031],[492,.0033],[500,.003],[510,.0034],[520,.0031],[528,.0057],[534,.0031],[545,.0033],[555,.003],[565,.0036],[575,.003],[585,.0033],[595,.003],[605,.0034],[615,.003],[625,.0032],[633,.004],[640,.003],[650,.0033],[660,.003],[670,.0035],[680,.003],[690,.0032],[700,.0029],[710,.0034],[720,.003],[730,.0033],[740,.0029],[754,.0035],[762,.003],[772,.0032],[782,.0029],[792,.0031],[800,.0029]];
const trainB6 = [[0,.05],[10,.02],[19,.0102],[30,.0085],[40,.0074],[50,.0066],[60,.0059],[75,.005],[90,.0046],[110,.0042],[125,.004],[150,.0036],[180,.0033],[210,.0031],[241,.003],[280,.0028],[330,.0027],[390,.0026],[454,.0025],[520,.00245],[600,.00239],[700,.00236],[800,.00234]];
const evalB6 = [[0,.05],[15,.0104],[20,.0093],[27,.0088],[35,.0085],[42,.0077],[48,.008],[55,.0068],[62,.0066],[70,.006],[78,.0058],[85,.0057],[92,.0054],[100,.0059],[108,.005],[116,.0049],[124,.0047],[132,.0046],[140,.0049],[150,.0044],[160,.0061],[168,.0043],[176,.0042],[184,.0045],[192,.004],[200,.0041],[210,.0039],[220,.004],[230,.0037],[240,.0038],[250,.0045],[258,.0036],[266,.0037],[275,.0035],[285,.004],[293,.0034],[300,.0035],[310,.004],[318,.0033],[330,.0047],[338,.0033],[348,.0035],[358,.0032],[368,.0034],[378,.0031],[388,.0033],[398,.003],[410,.0032],[420,.003],[432,.0033],[442,.003],[455,.0031],[465,.0029],[475,.0032],[485,.0029],[495,.0033],[502,.0035],[510,.0029],[520,.0036],[528,.0029],[540,.0032],[550,.0029],[560,.0034],[570,.0028],[580,.0031],[590,.0028],[600,.0034],[610,.0028],[620,.0031],[630,.0028],[640,.003],[650,.0028],[660,.0031],[670,.0028],[680,.003],[690,.0028],[700,.0033],[710,.0028],[720,.0037],[728,.0028],[740,.003],[750,.0027],[760,.003],[770,.0027],[780,.0029],[790,.0027],[800,.0027]];
const trainB16 = [[0,.05],[10,.025],[20,.015],[30,.0105],[40,.009],[55,.0076],[70,.0064],[85,.0056],[102,.005],[130,.0045],[172,.004],[220,.0036],[270,.0033],[320,.0031],[365,.003],[420,.0029],[500,.00282],[600,.00274],[700,.00268],[800,.00265]];
const evalB16 = [[0,.05],[20,.013],[30,.0102],[35,.009],[42,.0086],[50,.0079],[58,.0074],[65,.0081],[72,.0067],[80,.0062],[90,.0058],[100,.0053],[110,.006],[118,.0051],[130,.0058],[138,.0048],[146,.0049],[155,.0046],[162,.005],[170,.0045],[180,.0044],[190,.0043],[200,.0048],[210,.0042],[220,.004],[230,.0041],[240,.0043],[250,.0038],[258,.0039],[265,.0047],[272,.0037],[282,.0038],[292,.0036],[302,.0039],[312,.0035],[325,.0041],[333,.0035],[343,.0037],[353,.0034],[363,.0037],[373,.0034],[383,.0036],[395,.0033],[405,.0048],[412,.0033],[422,.0035],[432,.0033],[442,.0036],[450,.004],[458,.0032],[468,.0034],[478,.0032],[490,.0035],[505,.0042],[512,.0032],[522,.0034],[532,.0031],[542,.0034],[555,.0038],[562,.0031],[575,.0034],[585,.0031],[600,.0047],[608,.0031],[622,.0047],[630,.0031],[640,.0034],[650,.0031],[660,.0035],[670,.0031],[685,.0042],[692,.0031],[702,.0034],[712,.003],[722,.0035],[732,.003],[742,.0043],[750,.003],[760,.0034],[770,.003],[780,.0036],[790,.003],[800,.0033]];
const thrB2 = [86, 103, 172];
const thrB3 = [87, 143, 263];
const thrB6 = [74, 124, 241, 454];
const thrB16 = [102, 172, 365];
const thrLabels = ['<0.005', '<0.004', '<0.003', '<0.0025'];

// ---------- drawing helpers ----------
Chart.defaults.font.family = "'DejaVu Sans', sans-serif";
Chart.defaults.color = '#000';
const GRAY = '#808080';
const LW = 2.2;
const DASH = [8.1, 3.5], DASHDOT = [14, 3.5, 2.2, 3.5], DOT = [2.2, 3.6];
const thrDash = [[], DASHDOT, DASH, DOT];
const f0 = v => String(v), f1 = v => v.toFixed(1), f3 = v => v.toFixed(3);
const fMinus = v => (v < 0 ? '\u2212' + Math.abs(v) : String(v));
const xy = a => a.map(p => ({x: p[0], y: p[1]}));

function line(data, color, opts) {
  return Object.assign({data, borderColor: color, borderWidth: LW, pointRadius: 0, fill: false, tension: 0,
    xAxisID: 'x', yAxisID: 'y', spanGaps: false, borderCapStyle: 'butt'}, opts || {});
}
function events(times, y0, y1) {
  const d = [];
  times.forEach(t => d.push({x: t, y: y0}, {x: t, y: y1}, {x: t, y: null}));
  return d;
}
function raster(rows, maskStr, wins) {
  const masks = maskStr.trim().split(/\s+/);
  const d = [];
  rows.forEach((n, i) => {
    const m = masks[i] || '';
    wins.forEach((w, j) => { if (m[j] === '1') d.push({x: w[0], y: n}, {x: w[1], y: n}, {x: w[1], y: null}); });
  });
  return d;
}
function vline(x, r) { return [{x, y: r[0]}, {x, y: r[1]}]; }

function axis(pos, range, ticks, fmt, size, labels, title, showTicks) {
  const horiz = pos === 'top' || pos === 'bottom';
  return {
    type: 'linear', position: pos, min: range[0], max: range[1], display: true,
    afterFit: s => { if (horiz) s.height = size; else s.width = size; },
    afterBuildTicks: s => { s.ticks = ticks.map(v => ({value: v})); },
    ticks: {display: !!labels, padding: 5, autoSkip: false, maxRotation: 0, minRotation: 0,
      font: {size: 14.5}, color: '#000', callback: v => (fmt ? fmt(v) : '')},
    grid: {display: !!showTicks, drawOnChartArea: false, drawTicks: true, tickLength: 5, tickWidth: 1.1, tickColor: '#000', color: '#000'},
    border: {display: true, color: '#000', width: 1.1},
    title: title ? {display: true, text: title.text, font: {size: title.size}, color: '#000', padding: title.pad} : {display: false}
  };
}

function panel(p) {
  const cw = p.W + p.pl + p.pr, ch = p.H + p.pt + p.pb;
  const div = document.createElement('div');
  div.style.cssText = `position:absolute;left:${p.L - p.pl}px;top:${p.T - p.pt}px;width:${cw}px;height:${ch}px`;
  const cv = document.createElement('canvas');
  cv.width = cw; cv.height = ch;
  cv.style.width = cw + 'px'; cv.style.height = ch + 'px';
  div.appendChild(cv);
  document.body.appendChild(div);
  return new Chart(cv, {
    type: 'line',
    data: {datasets: p.datasets},
    options: {
      responsive: false, devicePixelRatio: 1, animation: false, events: [],
      layout: {padding: 0, autoPadding: false},
      plugins: {legend: {display: false}, tooltip: {enabled: false}, title: {display: false}},
      elements: {point: {radius: 0}},
      scales: {
        x: axis('bottom', p.xr, p.xt, p.xfmt, p.pb, p.xlab, p.xtitle, true),
        x2: axis('top', p.xr, p.xt, null, p.pt, false, p.ttitle, p.edgeTicks),
        y: axis('left', p.yr, p.yt, p.yfmt, p.pl, p.ylab, p.ytitle, true),
        y2: axis('right', p.yr, p.yt, null, p.pr, false, null, p.edgeTicks)
      }
    }
  });
}

function legend(x, y, w, items) {
  const h = items.length * 22.5 + 4;
  const d = document.createElement('div');
  d.className = 'leg';
  d.style.left = x + 'px'; d.style.top = y + 'px';
  d.style.width = w + 'px'; d.style.height = h + 'px';
  items.forEach((it, i) => {
    const r = document.createElement('div');
    r.className = 'row';
    r.style.top = (1.5 + i * 22.5) + 'px';
    const dash = it.d && it.d.length ? ` stroke-dasharray="${it.d.join(' ')}"` : '';
    r.innerHTML = `<svg width="30" height="22" style="position:absolute;left:4px;top:0"><line x1="0" y1="11.5" x2="30" y2="11.5" stroke="${it.c}" stroke-width="2.2"${dash}/></svg><span style="position:absolute;left:46px;top:0">${it.t}</span>`;
    d.appendChild(r);
  });
  document.body.appendChild(d);
}
function tag(text, x, y) {
  const d = document.createElement('div');
  d.className = 'tag'; d.textContent = text;
  d.style.left = x + 'px'; d.style.top = y + 'px';
  document.body.appendChild(d);
}

// ---------- top panel ----------
panel({
  L: 207, T: 33, W: 995, H: 231, pl: 207, pt: 33, pr: 10, pb: 50,
  xr: [-15, 315], xt: topXTicks, xfmt: f0, xlab: true,
  xtitle: {text: 'Timesteps', size: 16, pad: {top: 0, bottom: 6.4}},
  yr: [-1.2, 3.2], yt: topYTicks, yfmt: fMinus, ylab: true,
  ytitle: {text: 'Encoded signal', size: 16, pad: {top: 150.4, bottom: 0}},
  ttitle: {text: 'Input signals using temporal+rate encoding', size: 17.5, pad: {top: 8.5, bottom: 0}},
  edgeTicks: false,
  datasets: [
    line(xy(mackeyGlass), GRAY, {cubicInterpolationMode: 'monotone'}),
    line(events(temporal1, 1.5, 2.5), '#000', {borderWidth: 2}),
    line(events(temporal2, 0.5, 1.5), '#000', {borderWidth: 2}),
    line(events(rateSpikes, -0.5, 0.5), '#000', {borderWidth: 2})
  ]
});
legend(1040, 41, 155, [
  {t: 'Mackey-Glass', c: GRAY}, {t: 'temporal 1', c: '#000'}, {t: 'temporal 2', c: '#000'}, {t: 'rate', c: '#000'}
]);

// ---------- grid of panels ----------
const colL = [82, 402, 718, 1035];
const colW = 300;
const stepRange = [-15, 315];
const activity = [activityB2, activityB3, activityB6, activityB16];
const energy = [energyB2, energyB3, energyB6, energyB16];
const rasters = [[rowsB2, maskB2, winB2], [rowsDense, maskB3, winB3], [rowsDense, maskB6, winB6], [rowsDense, maskB16, winB16]];
const traces = [tracesB2, tracesB3, tracesB6, tracesB16];
const lsm = [lsmB2, lsmB3, lsmB6, lsmB16];
const trains = [trainB2, trainB3, trainB6, trainB16];
const evals = [evalB2, evalB3, evalB6, evalB16];
const thresholds = [thrB2, thrB3, thrB6, thrB16];

for (let c = 0; c < 4; c++) {
  const L = colL[c];
  const pl = c === 0 ? 82 : 14;
  const first = c === 0;

  // (a) activity / energy
  panel({
    L, T: 335, W: colW, H: 219, pl, pt: 34, pr: 10, pb: 8,
    xr: stepRange, xt: stepTicks, xlab: false,
    yr: [0, 0.5], yt: actTicks, yfmt: f1, ylab: first,
    ytitle: first ? {text: 'Percentage', size: 16, pad: {top: 24.9, bottom: 0}} : null,
    ttitle: {text: bTitles[c], size: 17.5, pad: {top: 10.2, bottom: 0}},
    edgeTicks: true,
    datasets: [line(xy(activity[c]), '#000'), line(xy(energy[c]), GRAY)]
  });
  legend(L + colW - 7.3 - 109, 335 + 7.3, 109, [{t: 'Activity', c: '#000'}, {t: 'Energy', c: GRAY}]);

  // (b) raster
  const rs = rasters[c];
  panel({
    L, T: 574, W: colW, H: 218, pl, pt: 8, pr: 10, pb: 8,
    xr: stepRange, xt: stepTicks, xlab: false,
    yr: [-20, 420], yt: neuronTicks, yfmt: f0, ylab: first,
    ytitle: first ? {text: 'Excitatory neurons', size: 16, pad: {top: 19.4, bottom: 0}} : null,
    edgeTicks: true,
    datasets: [line(raster(rs[0], rs[1], rs[2]), '#000', {borderWidth: 1.1, borderDash: c === 0 ? [1.2, 2] : [1.2, 1.8]})]
  });

  // (c) decoded spikes (taller canvas on the first column so the long label fits)
  const cpad = first ? 30 : 8;
  panel({
    L, T: 811, W: colW, H: 218, pl, pt: cpad, pr: 10, pb: cpad,
    xr: stepRange, xt: stepTicks, xlab: false,
    yr: [0, 5], yt: decTicks, yfmt: f0, ylab: first,
    ytitle: first ? {text: 'Decoded spikes (of 50 neurons)', size: 16, pad: {top: 18.7, bottom: 0}} : null,
    edgeTicks: true,
    datasets: traces[c].map(tr => line(xy(tr), '#000', {borderWidth: 1.5, cubicInterpolationMode: 'monotone'}))
  });

  // (d) predictions
  const predRange = [0.375, 1.345];
  panel({
    L, T: 1049, W: colW, H: 218, pl, pt: 8, pr: 10, pb: 50,
    xr: stepRange, xt: stepTicks, xfmt: f0, xlab: true,
    xtitle: {text: 'Timesteps', size: 16, pad: {top: 0, bottom: 1.9}},
    yr: predRange, yt: predTicks, yfmt: f1, ylab: first,
    ytitle: first ? {text: 'Prediction', size: 16, pad: {top: 25.4, bottom: 0}} : null,
    edgeTicks: true,
    datasets: [
      line(vline(testStart, predRange), '#000', {borderDash: DASH}),
      line(xy(lsm[c]), '#000'),
      line(xy(truePred), GRAY, {borderDash: DASH, cubicInterpolationMode: 'monotone'})
    ]
  });
  legend(L + 8.7, 1267 - 7.3 - 71.5, 164, [
    {t: 'True prediciton', c: GRAY, d: DASH}, {t: 'LSM prediciton', c: '#000'}, {t: 'Start testset', c: '#000', d: DASH}
  ]);

  // (e) loss
  const lossRange = [0, 0.01];
  const thr = thresholds[c];
  panel({
    L, T: 1371, W: colW, H: 217, pl, pt: 34, pr: 10, pb: 50,
    xr: [-40, 840], xt: epochTicks, xfmt: f0, xlab: true,
    xtitle: {text: 'Epochs', size: 16, pad: {top: 0, bottom: 1.7}},
    yr: lossRange, yt: lossTicks, yfmt: f3, ylab: first,
    ytitle: first ? {text: 'Loss', size: 16, pad: {top: 7.1, bottom: 0}} : null,
    ttitle: {text: lossTitles[c], size: 17.5, pad: {top: 7.5, bottom: 0}},
    edgeTicks: true,
    datasets: thr.map((e, i) => line(vline(e, lossRange), '#000', {borderDash: thrDash[i]}))
      .concat([line(xy(trains[c]), '#000'), line(xy(evals[c]), GRAY)])
  });
  const lw = thr.length > 3 ? 117.7 : 108.3;
  const items = [{t: 'Train', c: '#000'}, {t: 'Eval', c: GRAY}]
    .concat(thr.map((e, i) => ({t: thrLabels[i], c: '#000', d: thrDash[i]})));
  legend(L + colW - 7.3 - lw, 1371 + 7.3, lw, items);
}

// row tags
tag('(a)', 1356, 457);
tag('(b)', 1356, 682);
tag('(c)', 1355, 932);
tag('(d)', 1355, 1161);
tag('(e)', 1356, 1495);
</script>
</body>
</html>
